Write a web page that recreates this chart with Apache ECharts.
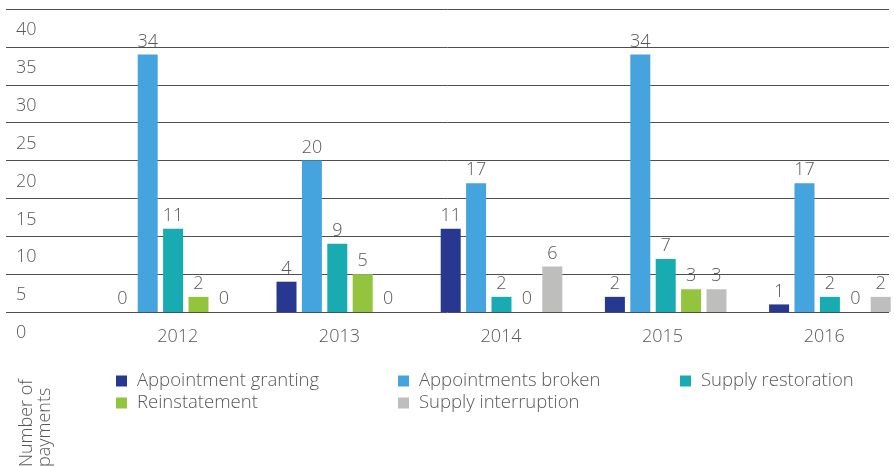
<!DOCTYPE html>
<html>
<head>
<meta charset="utf-8">
<title>Number of payments</title>
<script src="https://cdn.jsdelivr.net/npm/echarts@6/dist/echarts.min.js"></script>
<style>
  html, body { margin: 0; padding: 0; background: #ffffff; }
  #chart { width: 894px; height: 467px; }
</style>
</head>
<body>
<div id="chart"></div>
<script>
// Years on the category axis
const years = ['2012', '2013', '2014', '2015', '2016'];

// Number of payments per type and year
const appointmentGranting = [0, 4, 11, 2, 1];
const appointmentsBroken  = [34, 20, 17, 34, 17];
const supplyRestoration   = [11, 9, 2, 7, 2];
const reinstatement       = [2, 5, 0, 3, 0];
const supplyInterruption  = [0, 0, 6, 3, 2];

const seriesNames = [
  'Appointment granting',
  'Appointments broken',
  'Supply restoration',
  'Reinstatement',
  'Supply interruption'
];
const seriesValues = [
  appointmentGranting,
  appointmentsBroken,
  supplyRestoration,
  reinstatement,
  supplyInterruption
];
const seriesColors = ['#28378f', '#45a4dd', '#18abb2', '#93c43e', '#bebfbc'];

// Value axis range
const yMin = 0;
const yMax = 40;
const yStep = 5;

const FONT = '"Open Sans", "Noto Sans", sans-serif';
const TEXT_COLOR = '#585858';

const chart = echarts.init(document.getElementById('chart'), null, { renderer: 'canvas' });

const plotTop = 9;
const plotHeight = 303;

const option = {
  animation: false,
  backgroundColor: '#ffffff',
  textStyle: { fontFamily: FONT },
  grid: [
    // bars
    { left: 91, top: plotTop, width: 821, height: plotHeight, containLabel: false, outerBoundsMode: 'none' },
    // horizontal rules and value labels
    { left: 6, top: plotTop, width: 883, height: plotHeight, containLabel: false, outerBoundsMode: 'none' },
    // year labels
    { left: 97, top: plotTop, width: 808, height: plotHeight, containLabel: false, outerBoundsMode: 'none' }
  ],
  xAxis: [
    {
      gridIndex: 0, type: 'category', data: years,
      axisLine: { show: false }, axisTick: { show: false }, axisLabel: { show: false }
    },
    {
      gridIndex: 1, type: 'category', data: years,
      axisLine: { show: false }, axisTick: { show: false }, axisLabel: { show: false }
    },
    {
      gridIndex: 2, type: 'category', data: years,
      axisLine: { show: false }, axisTick: { show: false },
      axisLabel: {
        show: true, margin: 16, fontSize: 18, fontWeight: 300,
        fontFamily: FONT, color: TEXT_COLOR
      }
    }
  ],
  yAxis: [
    {
      gridIndex: 0, type: 'value', min: yMin, max: yMax, interval: yStep,
      axisLine: { show: false }, axisTick: { show: false },
      axisLabel: { show: false }, splitLine: { show: false }
    },
    {
      gridIndex: 1, type: 'value', min: yMin, max: yMax, interval: yStep,
      axisLine: { show: false }, axisTick: { show: false },
      axisLabel: {
        show: true, inside: true, margin: 10, align: 'left', verticalAlign: 'top',
        padding: [12, 0, 0, 0],
        fontSize: 18, fontWeight: 300, fontFamily: FONT, color: TEXT_COLOR
      },
      splitLine: { show: true, lineStyle: { color: '#4f4f4f', width: 1 } }
    },
    {
      gridIndex: 2, type: 'value', min: yMin, max: yMax, interval: yStep,
      show: false
    }
  ],
  legend: {
    left: 116, top: 370, width: 850, padding: 0,
    orient: 'horizontal',
    icon: 'rect', itemWidth: 11, itemHeight: 11, itemGap: 0,
    data: seriesNames,
    textStyle: {
      fontSize: 18.5, fontWeight: 300, fontFamily: FONT, color: TEXT_COLOR,
      width: 261, lineHeight: 22, padding: [0, 0, 0, 5], overflow: 'none'
    }
  },
  graphic: [
    {
      type: 'text', x: 18, y: 467, rotation: Math.PI / 2,
      style: {
        text: 'Number of\npayments',
        font: '300 18px ' + FONT,
        fill: TEXT_COLOR,
        textAlign: 'left', textVerticalAlign: 'top', lineHeight: 18
      }
    }
  ],
  series: seriesNames.map((name, i) => ({
    name: name,
    type: 'bar',
    xAxisIndex: 0,
    yAxisIndex: 0,
    data: seriesValues[i],
    barWidth: 20,
    barGap: '27%',
    itemStyle: { color: seriesColors[i] },
    label: {
      show: true, position: 'top', distance: 4,
      fontSize: 18, fontWeight: 300, fontFamily: FONT, color: TEXT_COLOR
    }
  }))
};

chart.setOption(option);
</script>
</body>
</html>
